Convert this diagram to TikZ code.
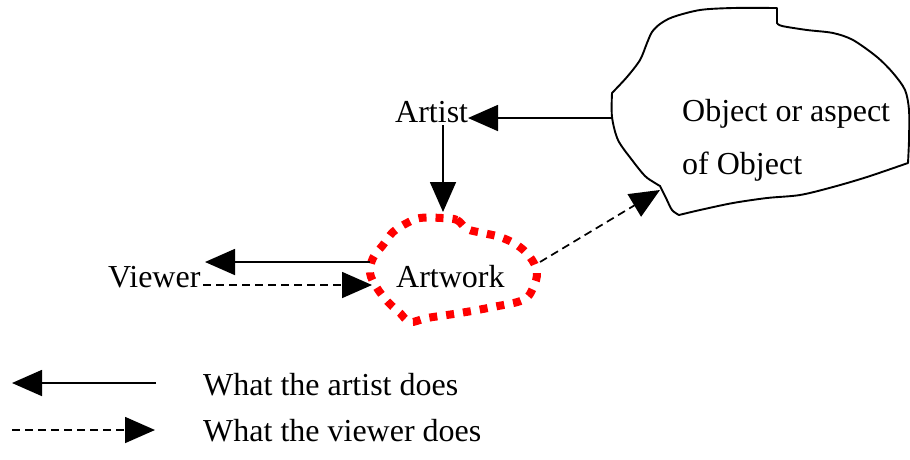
\documentclass[tikz,border=0pt]{standalone}
\usepackage{fontspec}
\setmainfont{Liberation Serif}
\usetikzlibrary{arrows.meta}
\begin{document}
\begin{tikzpicture}[x=1pt,y=-1pt,
  lbl/.style={inner sep=0pt, anchor=base west, font=\fontsize{32}{38}\selectfont},
  head/.style={-{Triangle[length=30pt,width=26pt]}},
  solidarrow/.style={head, line width=1.7pt},
  dasharrow/.style={head, line width=1.7pt, dash pattern=on 8pt off 5pt},
  cloudline/.style={line width=1.9pt, line join=round},
  redblob/.style={draw=red, line width=8pt, dash pattern=on 8pt off 9pt},
]
\useasboundingbox (0,0) rectangle (910,459);

% the object, drawn as an irregular outline
\draw[cloudline]
  plot[smooth,tension=.5] coordinates {(612,93) (612,117) (618,140) (632,160) (645,176) (655,183) (660,186)}
  -- plot[smooth,tension=.5] coordinates {(660,186) (666,198) (672,210) (679,215)}
  -- plot[smooth,tension=.5] coordinates {(679,215) (700,210) (733,203) (767,198) (800,195) (833,187) (867,177) (908,163)}
  -- plot[smooth,tension=.5] coordinates {(908,163) (909,140) (909,110) (905,90) (893,73) (877,57) (853,40) (833,33) (807,30) (782,26) (777,23)}
  -- (777,8)
  -- plot[smooth,tension=.5] coordinates {(777,8) (733,8) (700,10) (673,17) (660,24) (652,32) (647,43) (640,60) (627,77) (612,93)}
  -- cycle;

% the artwork, a dotted red outline
\draw[redblob] plot[smooth cycle,tension=.6] coordinates {
  (442,218) (457,220) (467,229) (483,233) (500,237) (517,245) (530,257)
  (537,272) (533,288) (523,300) (493,307) (460,313) (427,318) (410,322)
  (400,313) (388,302) (377,288) (370,273) (373,258) (383,245) (393,232)
  (407,223) (420,218)};

% labels
\node[lbl] (artist) at (395,122) {Artist};
\node[lbl] (viewer) at (108,287) {Viewer};
\node[lbl] (artwork) at (396,287) {Artwork};
\node[lbl] (obj1) at (682,121) {Object or aspect};
\node[lbl] (obj2) at (682,174) {of Object};
\node[lbl] (leg1) at (203,395) {What the artist does};
\node[lbl] (leg2) at (203,441) {What the viewer does};

% connector end points
\coordinate (cloudleft) at (612,118);
\coordinate (artistright) at (468,118);
\coordinate (artistfoot) at (443,125);
\coordinate (artworktop) at (443,212);
\coordinate (artworkleft) at (370,262);
\coordinate (viewerright) at (205,262);
\coordinate (viewerfoot) at (203,285);
\coordinate (artworkin) at (372,285);
\coordinate (artworkright) at (540,262);
\coordinate (cloudfoot) at (660,190);
\coordinate (legAa) at (156,383);
\coordinate (legAb) at (12,383);
\coordinate (legBa) at (12,430);
\coordinate (legBb) at (155,430);

% what the artist does
\draw[solidarrow] (cloudleft) -- (artistright);
\draw[solidarrow] (artistfoot) -- (artworktop);
\draw[solidarrow] (artworkleft) -- (viewerright);

% what the viewer does
\draw[dasharrow] (viewerfoot) -- (artworkin);
\draw[dasharrow] (artworkright) -- (cloudfoot);

% legend
\draw[solidarrow] (legAa) -- (legAb);
\draw[dasharrow] (legBa) -- (legBb);
\end{tikzpicture}
\end{document}
